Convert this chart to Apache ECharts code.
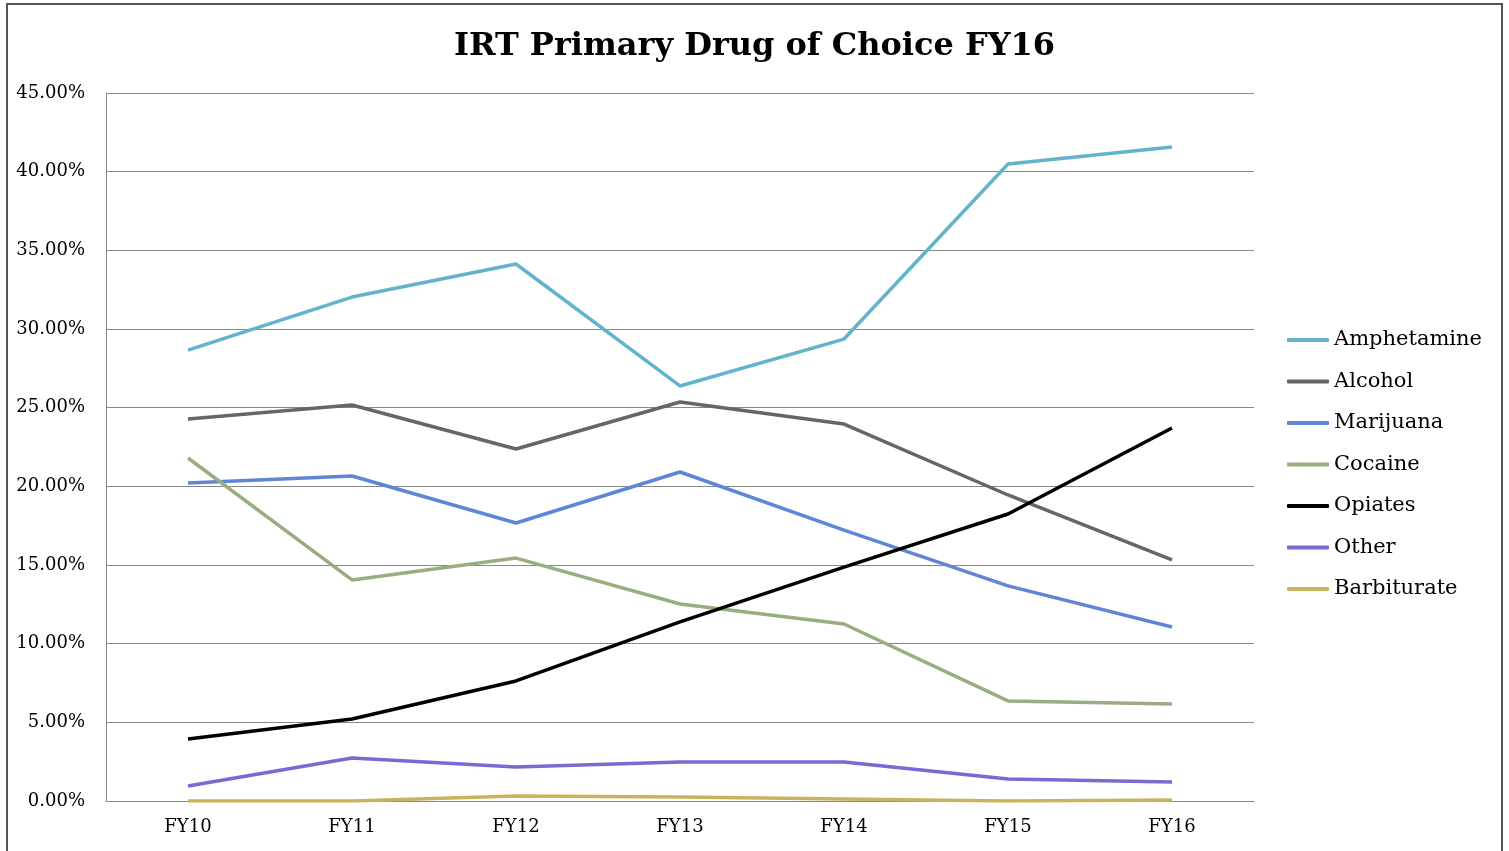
<!DOCTYPE html>
<html>
<head>
<meta charset="utf-8">
<script src="https://cdn.jsdelivr.net/npm/echarts@6/dist/echarts.min.js"></script>
<style>
  html, body { margin: 0; padding: 0; background: #fff; }
  #chart { width: 1509px; height: 851px; }
</style>
</head>
<body>
<div id="chart"></div>
<script>
const years = ['FY10', 'FY11', 'FY12', 'FY13', 'FY14', 'FY15', 'FY16']

const amphetamine = [28.66, 32.03, 34.13, 26.38, 29.36, 40.49, 41.57]
const alcohol = [24.28, 25.17, 22.37, 25.36, 23.96, 19.45, 15.32]
const marijuana = [20.21, 20.66, 17.67, 20.91, 17.22, 13.67, 11.06]
const cocaine = [21.8, 14.05, 15.44, 12.52, 11.25, 6.36, 6.17]
const opiates = [3.94, 5.21, 7.63, 11.38, 14.87, 18.24, 23.71]
const other = [0.95, 2.73, 2.16, 2.48, 2.48, 1.40, 1.21]
const barbiturate = [0, 0, 0.32, 0.25, 0.13, 0, 0.06]

const seriesList = [
    { name: 'Amphetamine', data: amphetamine, color: '#62b3cb' },
    { name: 'Alcohol', data: alcohol, color: '#666569' },
    { name: 'Marijuana', data: marijuana, color: '#5f86d6' },
    { name: 'Cocaine', data: cocaine, color: '#98ae80' },
    { name: 'Opiates', data: opiates, color: '#000000' },
    { name: 'Other', data: other, color: '#7c68d2' },
    { name: 'Barbiturate', data: barbiturate, color: '#cbb35e' }
]

const serif = '"DejaVu Serif", "Liberation Serif", serif'

let chart = echarts.init(document.getElementById('chart'))

chart.setOption({
    animation: false,
    textStyle: { fontFamily: serif },
    title: {
        text: 'IRT Primary Drug of Choice FY16',
        left: 'center',
        top: 26,
        textStyle: { fontFamily: serif, fontSize: 32, fontWeight: 'bold', color: '#000' }
    },
    graphic: [{
        type: 'rect',
        shape: { x: 7, y: 4, width: 1495, height: 860 },
        style: { fill: 'none', stroke: '#555', lineWidth: 2 },
        silent: true
    }],
    grid: { left: 106, top: 93, right: 255, bottom: 50 },
    legend: {
        orient: 'vertical',
        left: 1282,
        top: 324,
        itemWidth: 42,
        itemHeight: 4,
        itemGap: 19.5,
        icon: 'roundRect',
        data: seriesList.map(s => s.name),
        textStyle: { fontFamily: serif, fontSize: 21, color: '#000', lineHeight: 22 }
    },
    xAxis: {
        type: 'category',
        data: years,
        boundaryGap: true,
        axisLine: { lineStyle: { color: '#888', width: 1 } },
        axisTick: { show: false },
        axisLabel: { color: '#000', fontSize: 18, margin: 17, fontFamily: serif }
    },
    yAxis: {
        type: 'value',
        min: 0,
        max: 45,
        interval: 5,
        axisLine: { show: true, lineStyle: { color: '#888', width: 1 } },
        splitLine: { lineStyle: { color: '#888', width: 1 } },
        axisLabel: {
            color: '#000',
            fontSize: 18,
            margin: 21,
            fontFamily: serif,
            formatter: v => v.toFixed(2) + '%'
        }
    },
    series: seriesList.map(s => ({
        name: s.name,
        type: 'line',
        data: s.data,
        showSymbol: false,
        symbol: 'none',
        color: s.color,
        lineStyle: { width: 3.5, color: s.color }
    }))
})
</script>
</body>
</html>
